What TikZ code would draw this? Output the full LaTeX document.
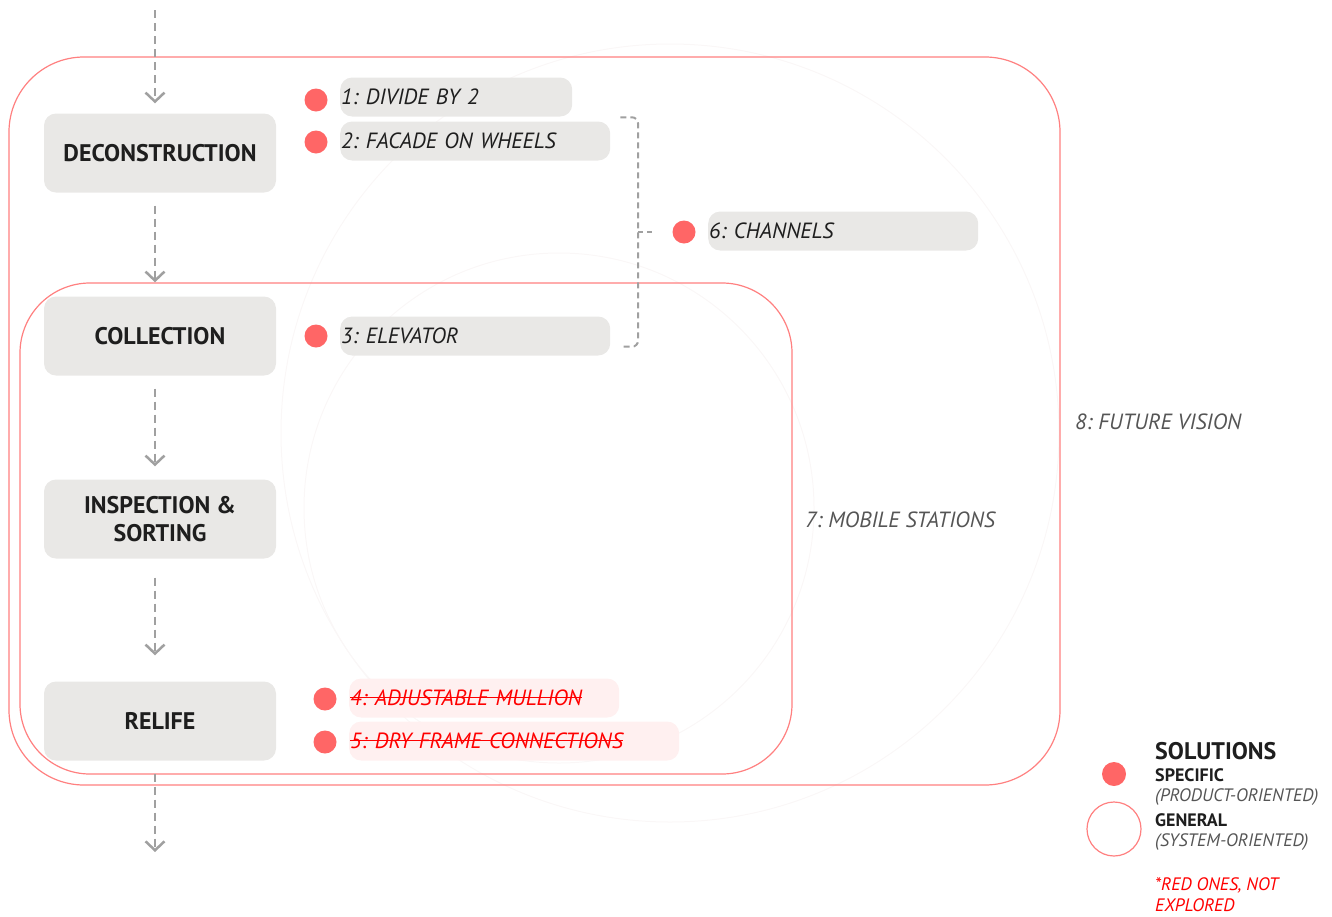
\documentclass[tikz,border=0pt]{standalone}
\usepackage{fontspec}
\setmainfont{PT Sans}
\usetikzlibrary{arrows.meta}

\definecolor{boxgray}{HTML}{E9E8E6}
\definecolor{dotred}{HTML}{FF6666}
\definecolor{zonered}{HTML}{FF8080}
\definecolor{palered}{HTML}{FFF0F0}
\definecolor{flowgray}{HTML}{A0A0A0}
\definecolor{inkdark}{HTML}{1E1E1E}
\definecolor{inkgray}{HTML}{555555}
\definecolor{ghost}{HTML}{FAF7F7}
\frenchspacing

% crossed-out text for solutions that were dropped
\newsavebox\strikebox
\newcommand{\struck}[1]{\sbox\strikebox{#1}\rlap{\usebox\strikebox}\raisebox{0.33em}{\rule{\wd\strikebox}{1.3pt}}}

\begin{document}
\begin{tikzpicture}[x=1pt,y=-1pt,
  stage/.style={rectangle,rounded corners=12pt,fill=boxgray,minimum width=232pt,minimum height=79pt,
    align=center,text=inkdark,font=\fontsize{24}{28}\selectfont\bfseries},
  pill/.style={rectangle,rounded corners=12pt,fill=boxgray,minimum height=39pt,inner xsep=1pt,
    align=left,anchor=west,text=inkdark,font=\fontsize{22}{26}\selectfont\itshape},
  dot/.style={circle,fill=dotred,minimum size=23pt,inner sep=0pt},
  flow/.style={draw=flowgray,line width=2.5pt,dash pattern=on 8pt off 5pt,-{Straight Barb[length=9pt,width=19pt,line width=2.5pt]}},
  zone/.style={draw=zonered,line width=1.2pt},
  zonelabel/.style={anchor=west,inner sep=0pt,text=inkgray,font=\fontsize{22}{26}\selectfont\itshape},
  legend/.style={anchor=west,inner sep=0pt,font=\fontsize{18}{21}\selectfont}]

\useasboundingbox (0,0) rectangle (1332,916);

% very faint circles behind everything
\draw[ghost,line width=1pt] (670,433) circle (389pt);
\draw[ghost,line width=1pt] (559,508) circle (255pt);

% zones
\draw[zone,rounded corners=75pt] (9,57) rectangle (1060,785);
\draw[zone,rounded corners=70pt] (20,283) rectangle (792,774);
\node[zonelabel] (fv) at (1075,422) {8: FUTURE VISION};
\node[zonelabel] (ms) at (805,520) {7: MOBILE STATIONS};

% process stages
\node[stage] (deco) at (160,153) {DECONSTRUCTION};
\node[stage] (coll) at (160,336) {COLLECTION};
\node[stage] (insp) at (160,519) {INSPECTION \&\\SORTING};
\node[stage] (relife) at (160,721) {RELIFE};
\coordinate (in) at (155,10);
\coordinate (out) at (155,852);

\draw[flow] (in) -- ([xshift=-5pt,yshift=10pt]deco.north);
\draw[flow,shorten <=13pt,shorten >=14pt] ([xshift=-5pt]deco.south) -- ([xshift=-5pt]coll.north);
\draw[flow,shorten <=13pt,shorten >=13pt] ([xshift=-5pt]coll.south) -- ([xshift=-5pt]insp.north);
\draw[flow,shorten <=19pt,shorten >=26pt] ([xshift=-5pt]insp.south) -- ([xshift=-5pt]relife.north);
\draw[flow,shorten <=13pt] ([xshift=-5pt]relife.south) -- (out);

% solutions
\node[dot] (d1) at (316,100) {};
\node[pill,text width=230pt] (s1) at (340,97) {1: DIVIDE BY 2};
\node[dot] (d2) at (316,142) {};
\node[pill,text width=268pt] (s2) at (340,141) {2: FACADE ON WHEELS};
\node[dot] (d3) at (316,336) {};
\node[pill,text width=268pt] (s3) at (340,336) {3: ELEVATOR};
\node[dot] (d6) at (684,232) {};
\node[pill,text width=268pt] (s6) at (708,231) {6: CHANNELS};
\node[dot] (d4) at (325,699) {};
\node[pill,fill=palered,text=red,text width=268pt] (s4) at (349,698) {\struck{4: ADJUSTABLE MULLION}};
\node[dot] (d5) at (325,742) {};
\node[pill,fill=palered,text=red,text width=328pt] (s5) at (349,741) {\struck{5: DRY FRAME CONNECTIONS}};

% bracket grouping 1-3 into 6
\coordinate (brk) at (638,232);
\draw[flowgray,line width=2pt,dash pattern=on 6pt off 4pt,rounded corners=6pt]
  ([shift={(10pt,4pt)}]s2.north east) -| (brk) |- ([shift={(10pt,9pt)}]s3.south east);
\draw[flowgray,line width=2pt,dash pattern=on 5pt off 4pt] (brk) -- (d6.west -| 653,0);

% legend
\node[legend,text=inkdark,font=\fontsize{24}{28}\selectfont\bfseries] (lg) at (1155,751) {SOLUTIONS};
\node[dot,minimum size=24pt] (lgdot) at (1114,774) {};
\node[legend,text=inkdark,font=\fontsize{18}{21}\selectfont\bfseries] (lgs) at (1155,775) {SPECIFIC};
\node[legend,text=inkgray,font=\fontsize{18}{21}\selectfont\itshape] (lgsp) at (1155,797) {(PRODUCT-ORIENTED)};
\node[circle,draw=zonered,line width=1.2pt,minimum size=54pt,inner sep=0pt] (lgring) at (1114,829) {};
\node[legend,text=inkdark,font=\fontsize{18}{21}\selectfont\bfseries] (lgg) at (1155,820) {GENERAL};
\node[legend,text=inkgray,font=\fontsize{18}{21}\selectfont\itshape] (lggs) at (1155,842) {(SYSTEM-ORIENTED)};
\node[legend,text=red,font=\fontsize{18}{21}\selectfont\itshape,align=left] (lgnote) at (1155,895) {*RED ONES, NOT\\EXPLORED};
\end{tikzpicture}
\end{document}
